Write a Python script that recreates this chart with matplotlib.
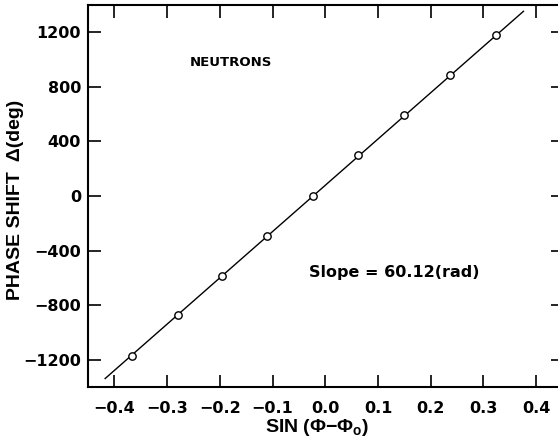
import matplotlib
matplotlib.use("Agg")
import matplotlib.pyplot as plt

# data
sin_x = [-0.367, -0.2795, -0.195, -0.1106, -0.024, 0.062, 0.150, 0.237, 0.3245]
phase = [-1170, -870, -583, -290, 2, 300, 594, 885, 1177]
fit_x = [-0.4175, 0.376]
fit_y = [-1338, 1354]
xticks = [-0.4, -0.3, -0.2, -0.1, 0.0, 0.1, 0.2, 0.3, 0.4]
yticks = [-1200, -800, -400, 0, 400, 800, 1200]

plt.rcParams['font.family'] = ['DejaVu Sans']
plt.rcParams['font.weight'] = 'bold'
plt.rcParams['mathtext.default'] = 'regular'

fig = plt.figure(figsize=(5.58, 4.45), dpi=100)
ax = fig.add_axes([88/558, 1-387/445, 474.5/558, 382/445])

ax.plot(fit_x, fit_y, color='black', lw=1.0, zorder=2)
ax.plot(sin_x, phase, linestyle='none', marker='o', ms=5.3, mfc='white',
        mec='black', mew=1.0, zorder=3)

ax.set_xlim(-0.45, 0.45)
ax.set_ylim(-1400, 1400)
ax.set_xticks(xticks)
ax.set_xticklabels([f"{v:.1f}".replace('-', '\u2212') for v in xticks])
ax.set_yticks(yticks)
ax.set_yticklabels([str(v).replace('-', '\u2212') for v in yticks])

for s in ax.spines.values():
    s.set_linewidth(1.5)
ax.tick_params(direction='in', length=9, width=1.2, labelsize=11.5,
               top=True, right=True)
ax.tick_params(axis='x', pad=10)
ax.tick_params(axis='y', pad=5)

lab_font = ['Liberation Sans', 'DejaVu Sans']
ax.set_xlabel('SIN (Φ−Φ$_\\mathregular{o}$)', fontsize=14, fontweight='bold',
              family=lab_font)
ax.xaxis.set_label_coords((317 - 88) / 474.5, -(428 - 387) / 382)
ax.xaxis.label.set_va('center')
ax.set_ylabel('PHASE SHIFT  Δ(deg)', fontsize=14, fontweight='bold', family=lab_font)
ax.yaxis.set_label_coords((16 - 88) / 474.5, (387 - 200) / 382)
ax.yaxis.label.set_va('center')

ax.text((190-88)/474.5, 1-(63-5)/382, 'NEUTRONS', transform=ax.transAxes,
        fontsize=9.5, fontweight='bold', ha='left', va='center')
ax.text((309-88)/474.5, 1-(273-5)/382, 'Slope = 60.12(rad)', transform=ax.transAxes,
        fontsize=11.5, fontweight='bold', ha='left', va='center')

fig.savefig('out.png', dpi=100)
